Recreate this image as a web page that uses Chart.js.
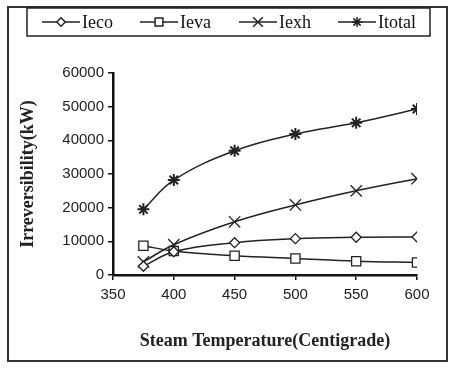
<!DOCTYPE html>
<html>
<head>
<meta charset="utf-8">
<script src="https://cdn.jsdelivr.net/npm/chart.js@4.4.0/dist/chart.umd.min.js"></script>
<style>
  html, body { margin: 0; padding: 0; background: #fff; }
  #wrap { width: 451px; height: 368px; position: relative; }
</style>
</head>
<body>
<div id="wrap"><canvas id="chart"></canvas></div>
<script>
// data
const temps = [375, 400, 450, 500, 550, 600];
const ieco = [2600, 6900, 9600, 10800, 11200, 11300];
const ieva = [8700, 7100, 5700, 4900, 4100, 3700];
const iexh = [3900, 9000, 15800, 20800, 25000, 28600];
const itotal = [19500, 28200, 36900, 41900, 45200, 49300];
const xTicks = [350, 400, 450, 500, 550, 600];
const yTicks = [0, 10000, 20000, 30000, 40000, 50000, 60000];

const names = ["Ieco", "Ieva", "Iexh", "Itotal"];
const styles = ["rectRot", "rect", "crossRot", "star"];
const radii = [5, 6.5, 8, 6];
const lineColor = "#222";

function toPoints(vals) {
    return temps.map((t, i) => ({ x: t, y: vals[i] }));
}

let seriesList = [ieco, ieva, iexh, itotal];
let datasets = seriesList.map((vals, i) => ({
    label: names[i],
    data: toPoints(vals),
    borderColor: lineColor,
    borderWidth: 1.5,
    backgroundColor: "#fff",
    pointStyle: styles[i],
    pointRadius: radii[i],
    pointBorderColor: lineColor,
    pointBorderWidth: i == 3 ? 2 : 1.3,
    pointBackgroundColor: "#fff",
    tension: 0.4,
    fill: false
}));

// frame round the picture and the boxed legend on top
const framePlugin = {
    id: "frame",
    afterDraw(chart) {
        let ctx = chart.ctx;
        ctx.save();
        ctx.strokeStyle = "#333";
        ctx.lineWidth = 2;
        ctx.strokeRect(8, 7, 439, 354);

        ctx.lineWidth = 1.5;
        ctx.strokeStyle = "#222";
        ctx.strokeRect(27, 8, 403, 28);

        let starts = [42, 140, 239, 338];
        let y = 22;
        ctx.font = "18px 'Liberation Serif'";
        ctx.textBaseline = "middle";
        starts.forEach((x0, i) => {
            ctx.lineWidth = 1.5;
            ctx.strokeStyle = lineColor;
            ctx.beginPath();
            ctx.moveTo(x0, y);
            ctx.lineTo(x0 + 38, y);
            ctx.stroke();
            ctx.fillStyle = "#fff";
            Chart.helpers.drawPoint(ctx, {
                pointStyle: styles[i],
                radius: radii[i] * 0.85,
                borderWidth: i == 3 ? 2 : 1.3
            }, x0 + 19, y);
            ctx.fillStyle = "#111";
            ctx.fillText(names[i], x0 + 40, y + 1);
        });
        ctx.restore();
    }
};

const ctx = document.getElementById("chart").getContext("2d");
const myChart = new Chart(ctx, {
    type: "line",
    data: { datasets: datasets },
    options: {
        responsive: true,
        maintainAspectRatio: false,
        animation: false,
        layout: {
            padding: { left: 10, top: 73, right: 34, bottom: 13 }
        },
        plugins: {
            legend: { display: false },
            tooltip: { enabled: false }
        },
        scales: {
            x: {
                type: "linear",
                min: 350,
                max: 600,
                afterBuildTicks: (s) => { s.ticks = xTicks.map(v => ({ value: v })); },
                afterFit: (s) => { s.height = 80; },
                ticks: {
                    color: "#222",
                    font: { family: "'Liberation Sans'", size: 15 },
                    padding: 6,
                    maxRotation: 0,
                    callback: (v) => String(v)
                },
                grid: { display: true, drawOnChartArea: false, drawTicks: true, tickLength: 5, color: "#111", lineWidth: 1.5 },
                border: { display: true, color: "#111", width: 2.5 },
                title: {
                    display: true,
                    text: "Steam Temperature(Centigrade)",
                    color: "#222",
                    font: { family: "'Liberation Serif'", size: 18, weight: "bold" },
                    padding: { top: 0, bottom: 3 }
                }
            },
            y: {
                min: 0,
                max: 60000,
                afterBuildTicks: (s) => { s.ticks = yTicks.map(v => ({ value: v })); },
                afterFit: (s) => { s.width = 103; },
                ticks: {
                    color: "#222",
                    font: { family: "'Liberation Sans'", size: 15 },
                    padding: 4,
                    callback: (v) => String(v)
                },
                grid: { display: true, drawOnChartArea: false, drawTicks: true, tickLength: 5, color: "#111", lineWidth: 1.5 },
                border: { display: true, color: "#111", width: 2.5 },
                title: {
                    display: true,
                    text: "Irreversibility(kW)",
                    color: "#222",
                    font: { family: "'Liberation Serif'", size: 18, weight: "bold" },
                    padding: { top: 8, bottom: 10 }
                }
            }
        }
    },
    plugins: [framePlugin]
});
</script>
</body>
</html>
